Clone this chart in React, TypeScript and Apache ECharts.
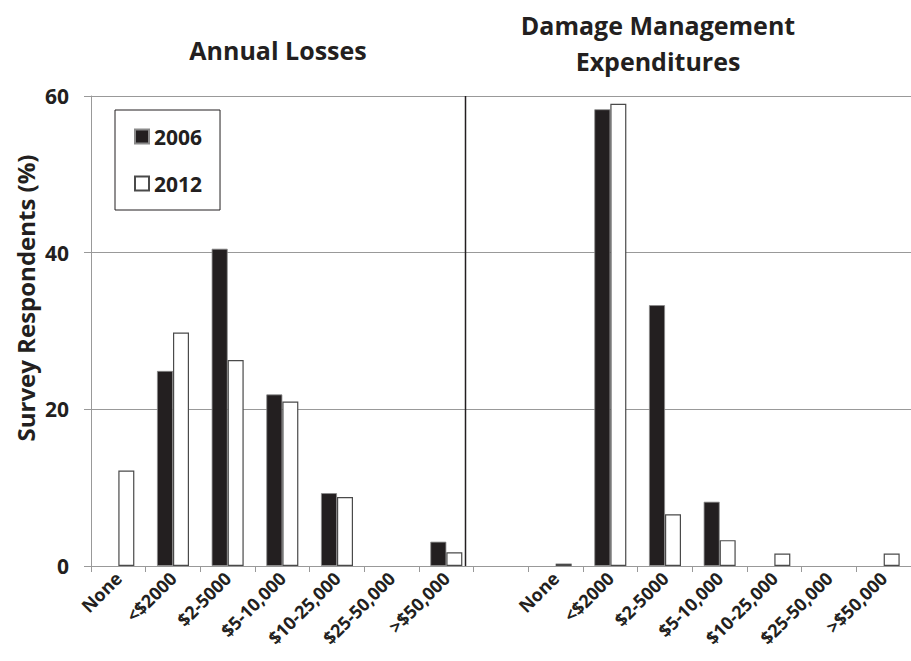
import React, { useEffect, useRef } from "react";
import * as echarts from "echarts";

const leftCategories = ["None", "<$2000", "$2-5000", "$5-10,000", "$10-25,000", "$25-50,000", ">$50,000"];
const rightCategories = ["None", "<$2000", "$2-5000", "$5-10,000", "$10-25,000", "$25-50,000", ">$50,000"];

// Annual Losses
const losses2006: (number | null)[] = [null, 24.9, 40.5, 21.9, 9.3, null, 3.1];
const losses2012: (number | null)[] = [12.2, 29.8, 26.3, 21.0, 8.8, null, 1.75];
// Damage Management Expenditures
const expend2006: (number | null)[] = [null, 58.3, 33.3, 8.2, null, null, null];
const expend2012: (number | null)[] = [0.3, 59.0, 6.6, 3.3, 1.6, null, 1.6];

const yTicks = [0, 20, 40, 60];

const FONT = "'Open Sans', sans-serif";
const INK = "#231f20";

export default function App() {
  const ref = useRef<HTMLDivElement>(null);

  useEffect(() => {
    document.body.style.margin = "0";
    if (!ref.current) return;
    const chart = echarts.init(ref.current, null, { renderer: "svg" });

    const categories = [...leftCategories, "", ...rightCategories];
    const s2006 = [...losses2006, null, ...expend2006];
    const s2012 = [...losses2012, null, ...expend2012];

    chart.setOption({
      animation: false,
      backgroundColor: "#ffffff",
      textStyle: { fontFamily: FONT },
      title: [
        {
          text: "Annual Losses",
          left: 273,
          top: 32,
          textAlign: "center",
          textStyle: { fontFamily: FONT, fontSize: 25, fontWeight: "bold", color: INK },
        },
        {
          text: "Damage Management\nExpenditures",
          left: 653,
          top: 2,
          textAlign: "center",
          textStyle: { fontFamily: FONT, fontSize: 25, fontWeight: "bold", color: INK, lineHeight: 36 },
        },
      ],
      legend: {
        orient: "vertical",
        left: 115,
        top: 110,
        padding: [16, 18, 16, 19],
        itemWidth: 14,
        itemHeight: 14,
        itemGap: 26,
        itemTextGap: 7,
        borderColor: INK,
        borderWidth: 1,
        icon: "rect",
        textStyle: { fontFamily: FONT, fontSize: 21, fontWeight: "bold", color: INK },
        data: ["2006", "2012"],
      },
      grid: { left: 91, top: 96, width: 827, height: 470, containLabel: false },
      xAxis: {
        type: "category",
        data: categories,
        boundaryGap: true,
        axisLine: { lineStyle: { color: "#999999", width: 1 } },
        axisTick: { show: true, length: 6, inside: false, lineStyle: { color: "#999999" } },
        axisLabel: {
          rotate: 45,
          interval: 0,
          margin: 9,
          fontFamily: FONT,
          fontSize: 18,
          fontWeight: "bold",
          color: INK,
        },
      },
      yAxis: {
        type: "value",
        min: yTicks[0],
        max: yTicks[yTicks.length - 1],
        interval: 20,
        axisLine: { show: true, lineStyle: { color: "#999999", width: 1 } },
        axisTick: { show: true, length: 7, lineStyle: { color: "#999999" } },
        splitLine: { show: true, lineStyle: { color: "#999999", width: 1 } },
        axisLabel: {
          margin: 22,
          fontFamily: FONT,
          fontSize: 21,
          fontWeight: "bold",
          color: INK,
        },
      },
      graphic: [
        {
          type: "text",
          x: 25,
          y: 298,
          rotation: Math.PI / 2,
          style: {
            text: "Survey Respondents (%)",
            fontFamily: FONT,
            fontSize: 24,
            fontWeight: "bold",
            fill: INK,
            align: "center",
            verticalAlign: "middle",
          },
        },
        {
          type: "line",
          shape: { x1: 465.5, y1: 96, x2: 465.5, y2: 566 },
          style: { stroke: INK, lineWidth: 1.5 },
          z: 10,
        },
      ],
      series: [
        {
          name: "2006",
          type: "bar",
          data: s2006,
          barWidth: 16,
          barGap: "0%",
          itemStyle: { color: INK, borderColor: "#8a8a8a", borderWidth: 0.8 },
        },
        {
          name: "2012",
          type: "bar",
          data: s2012,
          barWidth: 16,
          barGap: "0%",
          itemStyle: { color: "#ffffff", borderColor: "#4a4a4a", borderWidth: 1.2 },
        },
      ],
    });

    return () => chart.dispose();
  }, []);

  return (
    <div
      ref={ref}
      style={{ position: "absolute", left: 0, top: 0, width: 911, height: 661, background: "#fff" }}
    />
  );
}
